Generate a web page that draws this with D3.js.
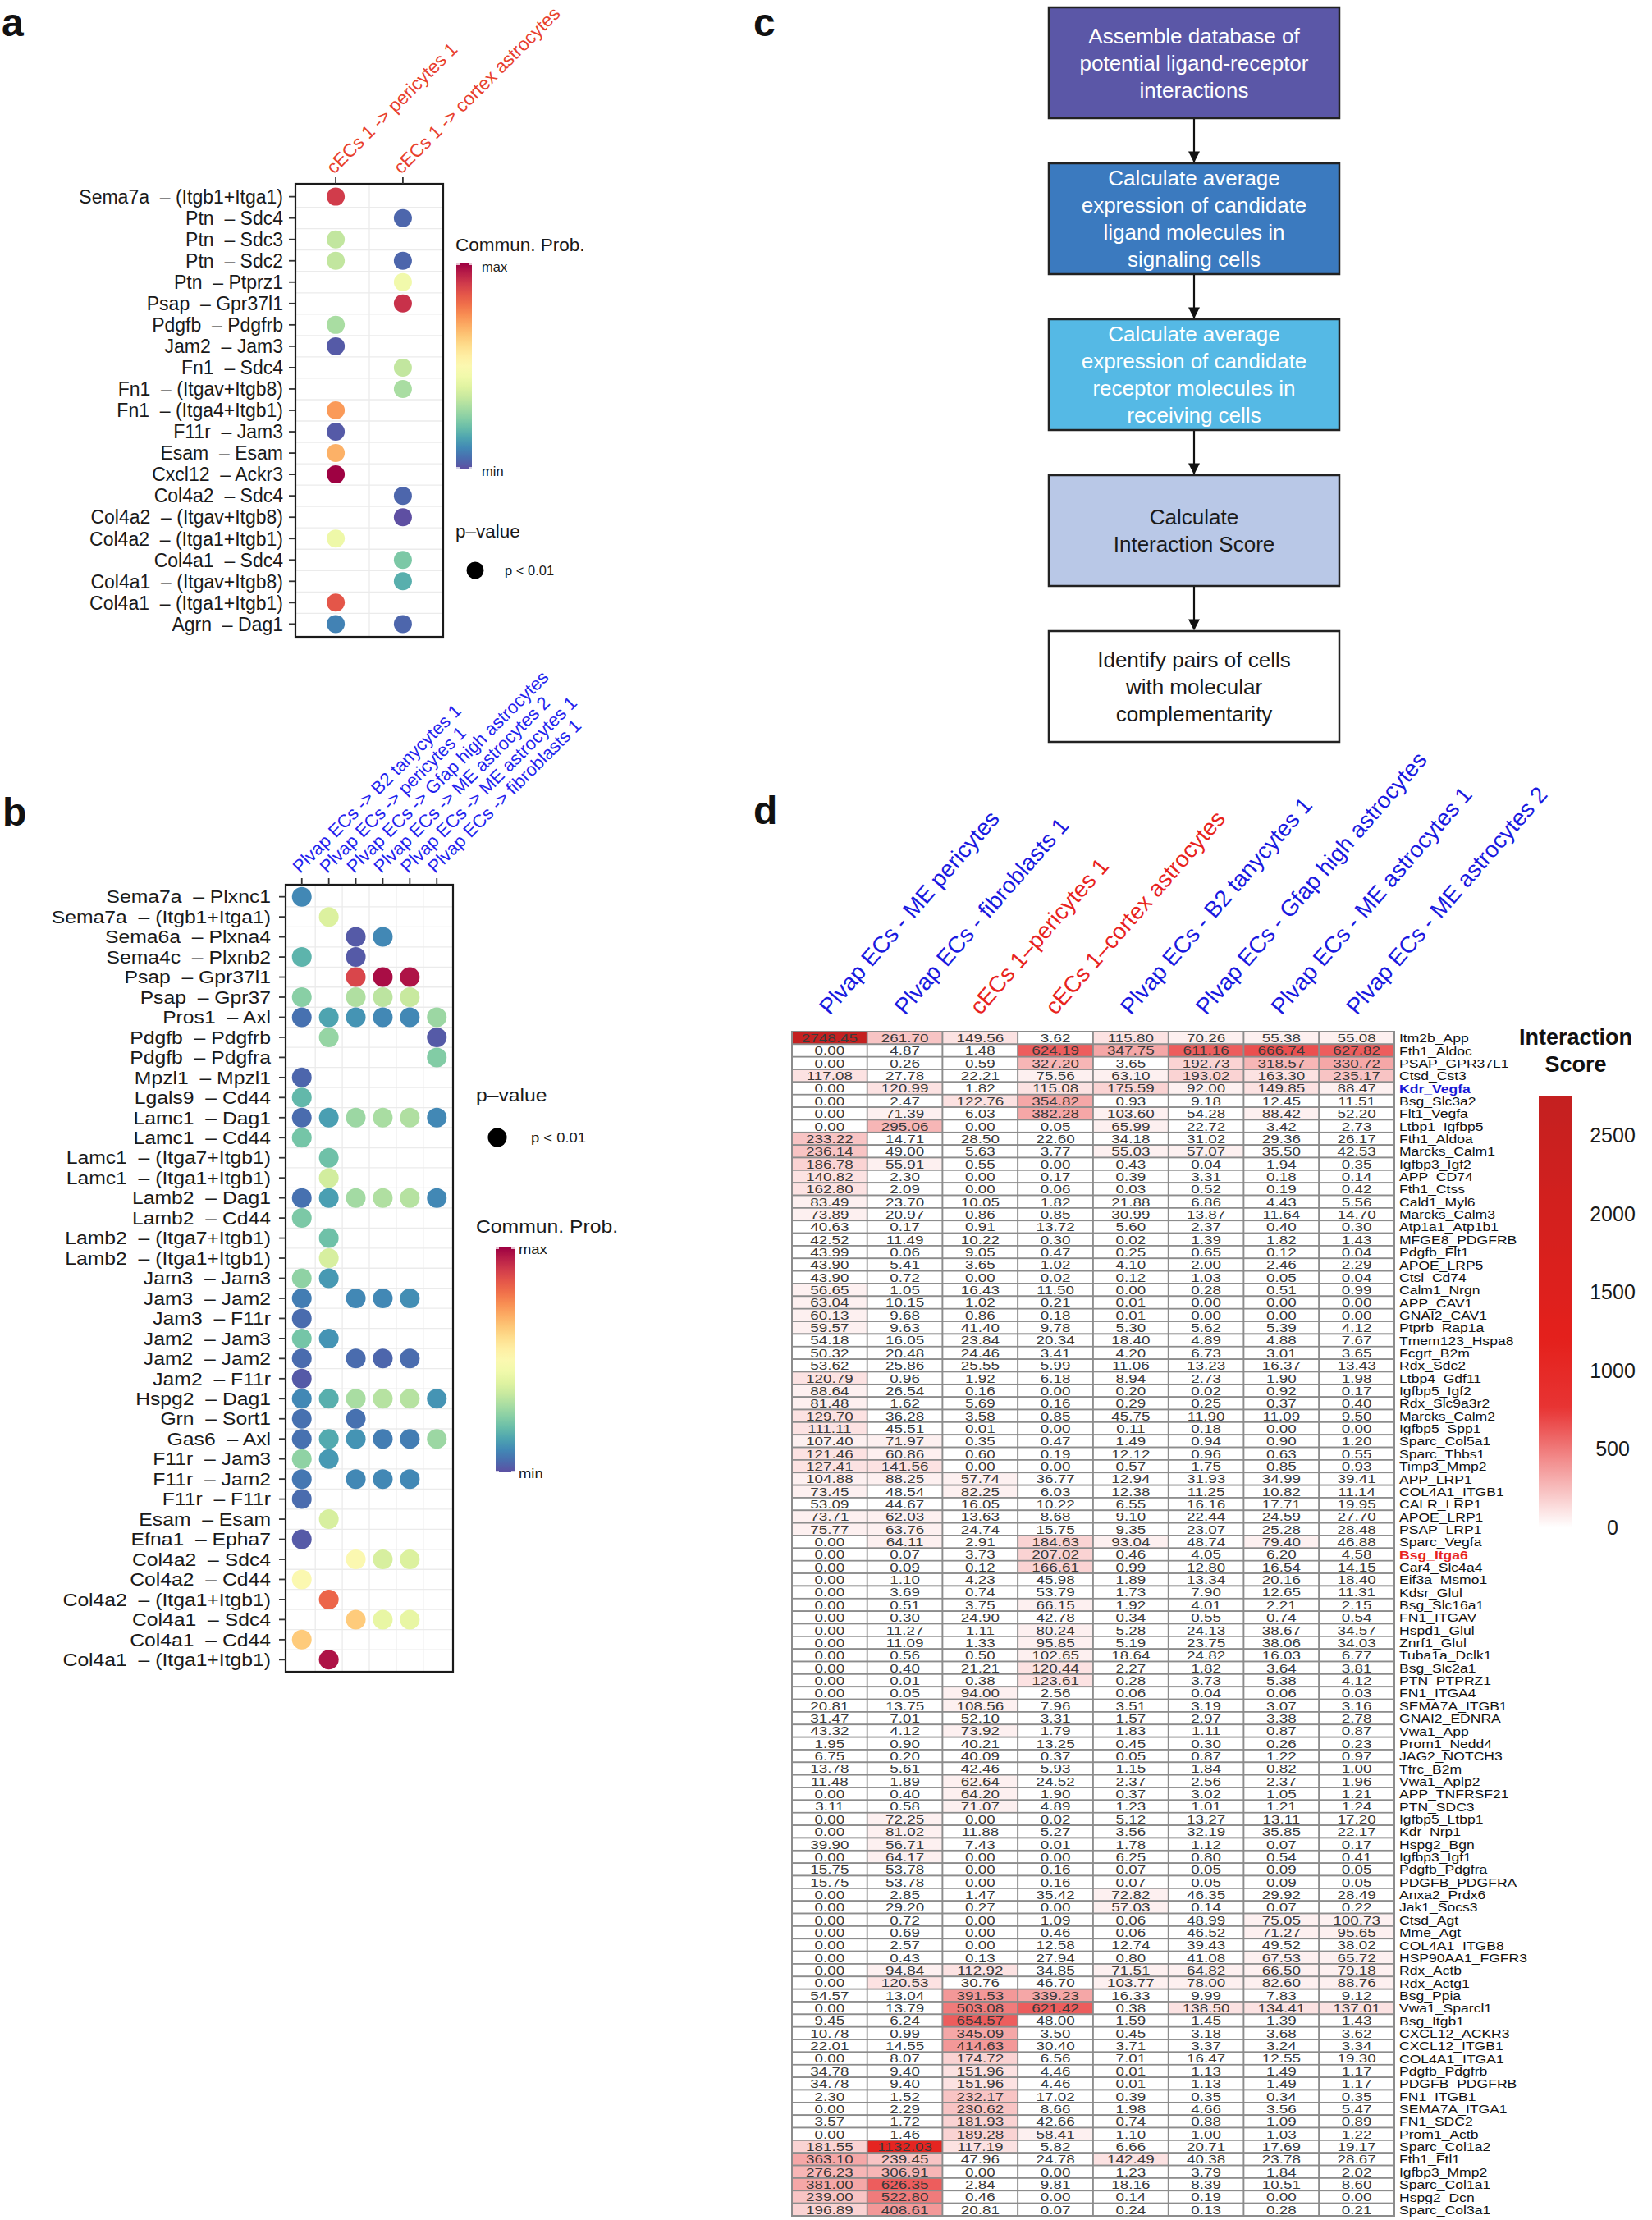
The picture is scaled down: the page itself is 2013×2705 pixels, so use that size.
<!DOCTYPE html>
<html><head><meta charset="utf-8">
<script src="https://cdn.jsdelivr.net/npm/d3@7"></script>
<style>
body{margin:0;background:#fff}
text{font-family:"Liberation Sans",Arial,Helvetica,sans-serif}
</style>
</head><body>
<svg id="fig" width="2013" height="2705"></svg>
<script>
// ================= DATA =================
// Panel a
const aRows = ["Sema7a – (Itgb1+Itga1)","Ptn – Sdc4","Ptn – Sdc3","Ptn – Sdc2","Ptn – Ptprz1","Psap – Gpr37l1","Pdgfb – Pdgfrb","Jam2 – Jam3","Fn1 – Sdc4","Fn1 – (Itgav+Itgb8)","Fn1 – (Itga4+Itgb1)","F11r – Jam3","Esam – Esam","Cxcl12 – Ackr3","Col4a2 – Sdc4","Col4a2 – (Itgav+Itgb8)","Col4a2 – (Itga1+Itgb1)","Col4a1 – Sdc4","Col4a1 – (Itgav+Itgb8)","Col4a1 – (Itga1+Itgb1)","Agrn – Dag1"];
const aCols = ["cECs 1 -> pericytes 1","cECs 1 -> cortex astrocytes"];
// relative communication probability (0 = min, 1 = max); null = not significant
const _ = null;
const aPericytes = [0.90,_,0.34,0.34,_,_,0.30,0.02,_,_,0.73,0.02,0.69,1.00,_,_,0.44,_,_,0.85,0.09];
const aCortex    = [_,0.04,_,0.04,0.45,0.92,_,_,0.34,0.30,_,_,_,_,0.04,0.00,_,0.23,0.17,_,0.04];

// Panel b
const bRows = ["Sema7a – Plxnc1","Sema7a – (Itgb1+Itga1)","Sema6a – Plxna4","Sema4c – Plxnb2","Psap – Gpr37l1","Psap – Gpr37","Pros1 – Axl","Pdgfb – Pdgfrb","Pdgfb – Pdgfra","Mpzl1 – Mpzl1","Lgals9 – Cd44","Lamc1 – Dag1","Lamc1 – Cd44","Lamc1 – (Itga7+Itgb1)","Lamc1 – (Itga1+Itgb1)","Lamb2 – Dag1","Lamb2 – Cd44","Lamb2 – (Itga7+Itgb1)","Lamb2 – (Itga1+Itgb1)","Jam3 – Jam3","Jam3 – Jam2","Jam3 – F11r","Jam2 – Jam3","Jam2 – Jam2","Jam2 – F11r","Hspg2 – Dag1","Grn – Sort1","Gas6 – Axl","F11r – Jam3","F11r – Jam2","F11r – F11r","Esam – Esam","Efna1 – Epha7","Col4a2 – Sdc4","Col4a2 – Cd44","Col4a2 – (Itga1+Itgb1)","Col4a1 – Sdc4","Col4a1 – Cd44","Col4a1 – (Itga1+Itgb1)"];
const bCols = ["Plvap ECs -> B2 tanycytes 1","Plvap ECs -> pericytes 1","Plvap ECs -> Gfap high astrocytes","Plvap ECs -> ME astrocytes 2","Plvap ECs -> ME astrocytes 1","Plvap ECs -> fibroblasts 1"];
const bB2Tany  = [0.10,_,_,0.18,_,0.25,0.06,_,_,0.04,0.19,0.05,0.22,_,_,0.06,0.23,_,_,0.26,0.08,0.05,0.22,0.05,0.02,0.10,0.06,0.06,0.26,0.07,0.05,_,0.02,_,0.50,_,_,0.64,_];
const bPeri    = [_,0.39,_,_,_,_,0.15,0.27,_,_,_,0.14,_,0.21,0.37,0.14,_,0.21,0.38,0.13,_,_,0.12,_,_,0.17,_,0.16,0.13,_,_,0.38,_,_,_,0.82,_,_,0.97];
const bGfap    = [_,_,0.02,0.02,0.88,0.31,0.12,_,_,_,_,0.28,_,_,_,0.29,_,_,_,_,0.10,_,_,0.05,_,0.30,0.06,0.12,_,0.10,_,_,_,0.50,_,_,0.64,_,_];
const bME2     = [_,_,0.10,_,0.98,0.33,0.10,_,_,_,_,0.30,_,_,_,0.31,_,_,_,_,0.10,_,_,0.04,_,0.32,_,0.08,_,0.10,_,_,_,0.38,_,_,0.42,_,_];
const bME1     = [_,_,_,_,0.97,0.35,0.10,_,_,_,_,0.31,_,_,_,0.32,_,_,_,_,0.11,_,_,0.05,_,0.32,_,0.08,_,0.10,_,_,_,0.39,_,_,0.42,_,_];
const bFibro   = [_,_,_,_,_,_,0.28,0.02,0.24,_,_,0.10,_,_,_,0.10,_,_,_,_,_,_,_,_,_,0.12,_,0.28,_,_,_,_,_,_,_,_,_,_,_];

// Panel c
const cSteps = [
  ["Assemble database of","potential ligand-receptor","interactions"],
  ["Calculate average","expression of candidate","ligand molecules in","signaling cells"],
  ["Calculate average","expression of candidate","receptor molecules in","receiving cells"],
  ["Calculate","Interaction Score"],
  ["Identify pairs of cells","with molecular","complementarity"]
];
const cFills = ["#5b57a7","#3b7abf","#55b9e5","#b9c8e7","#ffffff"];
const cTextColors = ["#ffffff","#ffffff","#ffffff","#1a1a1a","#1a1a1a"];

// Panel d
const dCols = ["Plvap ECs - ME pericytes","Plvap ECs - fibroblasts 1","cECs 1\u2013pericytes 1","cECs 1\u2013cortex astrocytes","Plvap ECs - B2 tanycytes 1","Plvap ECs - Gfap high astrocytes","Plvap ECs - ME astrocytes 1","Plvap ECs - ME astrocytes 2"];
const dRows = ["Itm2b_App","Fth1_Aldoc","PSAP_GPR37L1","Ctsd_Cst3","Kdr_Vegfa","Bsg_Slc3a2","Flt1_Vegfa","Ltbp1_Igfbp5","Fth1_Aldoa","Marcks_Calm1",
"Igfbp3_Igf2","APP_CD74","Fth1_Ctss","Cald1_Myl6","Marcks_Calm3","Atp1a1_Atp1b1","MFGE8_PDGFRB","Pdgfb_Flt1","APOE_LRP5","Ctsl_Cd74","Calm1_Nrgn",
"APP_CAV1","GNAI2_CAV1","Ptprb_Rap1a","Tmem123_Hspa8","Fcgrt_B2m","Rdx_Sdc2","Ltbp4_Gdf11","Igfbp5_Igf2","Rdx_Slc9a3r2","Marcks_Calm2",
"Igfbp5_Spp1","Sparc_Col5a1","Sparc_Thbs1","Timp3_Mmp2","APP_LRP1","COL4A1_ITGB1","CALR_LRP1","APOE_LRP1","PSAP_LRP1","Sparc_Vegfa","Bsg_Itga6",
"Car4_Slc4a4","Eif3a_Msmo1","Kdsr_Glul","Bsg_Slc16a1","FN1_ITGAV","Hspd1_Glul","Znrf1_Glul","Tuba1a_Dclk1","Bsg_Slc2a1","PTN_PTPRZ1",
"FN1_ITGA4","SEMA7A_ITGB1","GNAI2_EDNRA","Vwa1_App","Prom1_Nedd4","JAG2_NOTCH3","Tfrc_B2m","Vwa1_Aplp2","APP_TNFRSF21","PTN_SDC3","Igfbp5_Ltbp1",
"Kdr_Nrp1","Hspg2_Bgn","Igfbp3_Igf1","Pdgfb_Pdgfra","PDGFB_PDGFRA","Anxa2_Prdx6","Jak1_Socs3","Ctsd_Agt","Mme_Agt","COL4A1_ITGB8",
"HSP90AA1_FGFR3","Rdx_Actb","Rdx_Actg1","Bsg_Ppia","Vwa1_Sparcl1","Bsg_Itgb1","CXCL12_ACKR3","CXCL12_ITGB1","COL4A1_ITGA1","Pdgfb_Pdgfrb","PDGFB_PDGFRB",
"FN1_ITGB1","SEMA7A_ITGA1","FN1_SDC2","Prom1_Actb","Sparc_Col1a2","Fth1_Ftl1","Igfbp3_Mmp2","Sparc_Col1a1","Hspg2_Dcn","Sparc_Col3a1"];
const dMEPericytes = [2748.45,0.00,0.00,117.08,0.00,0.00,0.00,0.00,233.22,236.14,
186.78,140.82,162.80,83.49,73.89,40.63,42.52,43.99,43.90,43.90,56.65,
63.04,60.13,59.57,54.18,50.32,53.62,120.79,88.64,81.48,129.70,
111.11,107.40,121.46,127.41,104.88,73.45,53.09,73.71,75.77,0.00,0.00,
0.00,0.00,0.00,0.00,0.00,0.00,0.00,0.00,0.00,0.00,
0.00,20.81,31.47,43.32,1.95,6.75,13.78,11.48,0.00,3.11,0.00,
0.00,39.90,0.00,15.75,15.75,0.00,0.00,0.00,0.00,0.00,
0.00,0.00,0.00,54.57,0.00,9.45,10.78,22.01,0.00,34.78,34.78,
2.30,0.00,3.57,0.00,181.55,363.10,276.23,381.00,239.00,196.89];
const dFibroblasts = [261.70,4.87,0.26,27.78,120.99,2.47,71.39,295.06,14.71,49.00,
55.91,2.30,2.09,23.70,20.97,0.17,11.49,0.06,5.41,0.72,1.05,
10.15,9.68,9.63,16.05,20.48,25.86,0.96,26.54,1.62,36.28,
45.51,71.97,60.86,141.56,88.25,48.54,44.67,62.03,63.76,64.11,0.07,
0.09,1.10,3.69,0.51,0.30,11.27,11.09,0.56,0.40,0.01,
0.05,13.75,7.01,4.12,0.90,0.20,5.61,1.89,0.40,0.58,72.25,
81.02,56.71,64.17,53.78,53.78,2.85,29.20,0.72,0.69,2.57,
0.43,94.84,120.53,13.04,13.79,6.24,0.99,14.55,8.07,9.40,9.40,
1.52,2.29,1.72,1.46,1132.03,239.45,306.91,626.35,522.80,408.61];
const dCPericytes = [149.56,1.48,0.59,22.21,1.82,122.76,6.03,0.00,28.50,5.63,
0.55,0.00,0.00,10.05,0.86,0.91,10.22,9.05,3.65,0.00,16.43,
1.02,0.86,41.40,23.84,24.46,25.55,1.92,0.16,5.69,3.58,
0.01,0.35,0.60,0.00,57.74,82.25,16.05,13.63,24.74,2.91,3.73,
0.12,4.23,0.74,3.75,24.90,1.11,1.33,0.50,21.21,0.38,
94.00,108.56,52.10,73.92,40.21,40.09,42.46,62.64,64.20,71.07,0.00,
11.88,7.43,0.00,0.00,0.00,1.47,0.27,0.00,0.00,0.00,
0.13,112.92,30.76,391.53,503.08,654.57,345.09,414.63,174.72,151.96,151.96,
232.17,230.62,181.93,189.28,117.19,47.96,0.00,2.84,0.46,20.81];
const dCCortex = [3.62,624.19,327.20,75.56,115.08,354.82,382.28,0.05,22.60,3.77,
0.00,0.17,0.06,1.82,0.85,13.72,0.30,0.47,1.02,0.02,11.50,
0.21,0.18,9.78,20.34,3.41,5.99,6.18,0.00,0.16,0.85,
0.00,0.47,0.19,0.00,36.77,6.03,10.22,8.68,15.75,184.63,207.02,
166.61,45.98,53.79,66.15,42.78,80.24,95.85,102.65,120.44,123.61,
2.56,7.96,3.31,1.79,13.25,0.37,5.93,24.52,1.90,4.89,0.02,
5.27,0.01,0.00,0.16,0.16,35.42,0.00,1.09,0.46,12.58,
27.94,34.85,46.70,339.23,621.42,48.00,3.50,30.40,6.56,4.46,4.46,
17.02,8.66,42.66,58.41,5.82,24.78,0.00,9.81,0.00,0.07];
const dB2Tanycytes = [115.80,347.75,3.65,63.10,175.59,0.93,103.60,65.99,34.18,55.03,
0.43,0.39,0.03,21.88,30.99,5.60,0.02,0.25,4.10,0.12,0.00,
0.01,0.01,5.30,18.40,4.20,11.06,8.94,0.20,0.29,45.75,
0.11,1.49,12.12,0.57,12.94,12.38,6.55,9.10,9.35,93.04,0.46,
0.99,1.89,1.73,1.92,0.34,5.28,5.19,18.64,2.27,0.28,
0.06,3.51,1.57,1.83,0.45,0.05,1.15,2.37,0.37,1.23,5.12,
3.56,1.78,6.25,0.07,0.07,72.82,57.03,0.06,0.06,12.74,
0.80,71.51,103.77,16.33,0.38,1.59,0.45,3.71,7.01,0.01,0.01,
0.39,1.98,0.74,1.10,6.66,142.49,1.23,18.16,0.14,0.24];
const dGfapAstro = [70.26,611.16,192.73,193.02,92.00,9.18,54.28,22.72,31.02,57.07,
0.04,3.31,0.52,6.86,13.87,2.37,1.39,0.65,2.00,1.03,0.28,
0.00,0.00,5.62,4.89,6.73,13.23,2.73,0.02,0.25,11.90,
0.18,0.94,0.96,1.75,31.93,11.25,16.16,22.44,23.07,48.74,4.05,
12.80,13.34,7.90,4.01,0.55,24.13,23.75,24.82,1.82,3.73,
0.04,3.19,2.97,1.11,0.30,0.87,1.84,2.56,3.02,1.01,13.27,
32.19,1.12,0.80,0.05,0.05,46.35,0.14,48.99,46.52,39.43,
41.08,64.82,78.00,9.99,138.50,1.45,3.18,3.37,16.47,1.13,1.13,
0.35,4.66,0.88,1.00,20.71,40.38,3.79,8.39,0.19,0.13];
const dMEAstro1 = [55.38,666.74,318.57,163.30,149.85,12.45,88.42,3.42,29.36,35.50,
1.94,0.18,0.19,4.43,11.64,0.40,1.82,0.12,2.46,0.05,0.51,
0.00,0.00,5.39,4.88,3.01,16.37,1.90,0.92,0.37,11.09,
0.00,0.90,0.63,0.85,34.99,10.82,17.71,24.59,25.28,79.40,6.20,
16.54,20.16,12.65,2.21,0.74,38.67,38.06,16.03,3.64,5.38,
0.06,3.07,3.38,0.87,0.26,1.22,0.82,2.37,1.05,1.21,13.11,
35.85,0.07,0.54,0.09,0.09,29.92,0.07,75.05,71.27,49.52,
67.53,66.50,82.60,7.83,134.41,1.39,3.68,3.24,12.55,1.49,1.49,
0.34,3.56,1.09,1.03,17.69,23.78,1.84,10.51,0.00,0.28];
const dMEAstro2 = [55.08,627.82,330.72,235.17,88.47,11.51,52.20,2.73,26.17,42.53,
0.35,0.14,0.42,5.56,14.70,0.30,1.43,0.04,2.29,0.04,0.99,
0.00,0.00,4.12,7.67,3.65,13.43,1.98,0.17,0.40,9.50,
0.00,1.20,0.55,0.93,39.41,11.14,19.95,27.70,28.48,46.88,4.58,
14.15,18.40,11.31,2.15,0.54,34.57,34.03,6.77,3.81,4.12,
0.03,3.16,2.78,0.87,0.23,0.97,1.00,1.96,1.21,1.24,17.20,
22.17,0.17,0.41,0.05,0.05,28.49,0.22,100.73,95.65,38.02,
65.72,79.18,88.76,9.12,137.01,1.43,3.62,3.34,19.30,1.17,1.17,
0.35,5.47,0.89,1.22,19.17,28.67,2.02,8.60,0.00,0.21];
const dLegendTicks = [0,500,1000,1500,2000,2500];
const dHighlight = {"Kdr_Vegfa":"#1717d6","Bsg_Itga6":"#e8231e"};

// ================= DRAWING =================
const svg = d3.select("#fig");
svg.append("rect").attr("width",2013).attr("height",2705).attr("fill","#fff");
const defs = svg.append("defs");
const spectral = t => d3.interpolateSpectral(1 - t);

function spectralGradient(id){
  const g = defs.append("linearGradient").attr("id",id)
    .attr("x1",0).attr("y1",1).attr("x2",0).attr("y2",0);
  d3.range(0,1.0001,0.05).forEach(t=>g.append("stop").attr("offset",t).attr("stop-color",spectral(t)));
}
spectralGradient("specA");
spectralGradient("specB");

// panel letters
[["a",2,44],["b",3,1006],["c",918,44],["d",918,1004]].forEach(([t,x,y])=>{
  svg.append("text").attr("x",x).attr("y",y).attr("font-size",48).attr("font-weight","bold").attr("fill","#111").text(t);
});

function dotPlot(o){
  const g = svg.append("g");
  const x = d3.scaleLinear().domain([0.4,o.cols.length+0.6]).range([o.x0,o.x1]);
  const y = d3.scaleLinear().domain([0.4,o.rows.length+0.6]).range([o.y0,o.y1]);
  d3.range(1,o.cols.length).forEach(k=>g.append("line")
    .attr("x1",x(k+0.5)).attr("x2",x(k+0.5)).attr("y1",o.y0).attr("y2",o.y1)
    .attr("stroke","#ebebeb").attr("stroke-width",1.3));
  d3.range(1,o.rows.length).forEach(k=>g.append("line")
    .attr("y1",y(k+0.5)).attr("y2",y(k+0.5)).attr("x1",o.x0).attr("x2",o.x1)
    .attr("stroke","#ebebeb").attr("stroke-width",1.3));
  o.values.forEach((arr,j)=>arr.forEach((v,i)=>{
    if(v===null||v===undefined) return;
    g.append("circle").attr("cx",x(j+1)).attr("cy",y(i+1)).attr("r",o.r).attr("fill",spectral(v));
  }));
  g.append("rect").attr("x",o.x0).attr("y",o.y0).attr("width",o.x1-o.x0).attr("height",o.y1-o.y0)
    .attr("fill","none").attr("stroke","#1a1a1a").attr("stroke-width",2.2);
  o.rows.forEach((r,i)=>{
    g.append("line").attr("x1",o.x0-8).attr("x2",o.x0).attr("y1",y(i+1)).attr("y2",y(i+1)).attr("stroke","#333").attr("stroke-width",1.8);
    g.append("text").attr("transform",`translate(${o.x0-o.labelGap},${y(i+1)}) scale(${o.sx},1)`)
      .attr("text-anchor","end").attr("dy","0.36em").attr("font-size",o.fs).attr("fill","#1a1a1a")
      .style("white-space","pre").text(r.replace(" – ","  – "));
  });
  o.cols.forEach((c,j)=>{
    g.append("line").attr("x1",x(j+1)).attr("x2",x(j+1)).attr("y1",o.y0-8).attr("y2",o.y0).attr("stroke","#333").attr("stroke-width",1.8);
    g.append("text").attr("transform",`translate(${x(j+1)-2},${o.y0-o.cdy}) rotate(-45)`)
      .attr("font-size",o.cfs).attr("fill",o.colColor).text(c);
  });
}

dotPlot({rows:aRows, cols:aCols, values:[aPericytes,aCortex], x0:360, x1:540, y0:224, y1:776,
  r:11, fs:23, sx:1, labelGap:15, cfs:22.5, cdy:11, colColor:"#e8402e"});
dotPlot({rows:bRows, cols:bCols, values:[bB2Tany,bPeri,bGfap,bME2,bME1,bFibro], x0:348, x1:552, y0:1078, y1:2037,
  r:12, fs:21.5, sx:1.15, labelGap:18, cfs:22, cdy:13, colColor:"#2424ee"});

function legendText(x,y,t,fs,sx){
  svg.append("text").attr("transform",`translate(${x},${y}) scale(${sx},1)`).attr("font-size",fs).attr("fill","#1a1a1a").text(t);
}
function colorbar(x,y,w,h,grad){
  svg.append("rect").attr("x",x).attr("y",y).attr("width",w).attr("height",h).attr("fill",`url(#${grad})`);
  [y+1,y+h-1].forEach(yy=>{
    svg.append("line").attr("x1",x).attr("x2",x+4).attr("y1",yy).attr("y2",yy).attr("stroke","#fff").attr("stroke-width",1.5);
    svg.append("line").attr("x1",x+w-4).attr("x2",x+w).attr("y1",yy).attr("y2",yy).attr("stroke","#fff").attr("stroke-width",1.5);
  });
}
// legend a
legendText(555,306,"Commun. Prob.",22.5,1);
colorbar(556,321,19,250,"specA");
legendText(587,331,"max",16.5,1);
legendText(587,580,"min",16.5,1);
legendText(555,655,"p\u2013value",22.5,1);
svg.append("circle").attr("cx",579).attr("cy",695).attr("r",10.5).attr("fill","#000");
legendText(615,701,"p < 0.01",16.5,1);
// legend b
legendText(580,1342,"p\u2013value",21.5,1.15);
svg.append("circle").attr("cx",606).attr("cy",1386).attr("r",11.5).attr("fill","#000");
legendText(647,1392,"p < 0.01",16,1.15);
legendText(580,1502,"Commun. Prob.",21.5,1.15);
colorbar(604,1520,23,274,"specB");
legendText(632,1528,"max",16,1.15);
legendText(632,1801,"min",16,1.15);

// ---------- Panel c ----------
const cG = svg.append("g");
defs.append("marker").attr("id","arr").attr("viewBox","0 0 10 10").attr("refX",9).attr("refY",5)
  .attr("markerWidth",14).attr("markerHeight",14).attr("markerUnits","userSpaceOnUse").attr("orient","auto")
  .append("path").attr("d","M0,0 L10,5 L0,10 z").attr("fill","#111");
const cY = d3.scaleLinear().domain([0,5]).range([9,959]);
const boxH = 135, cx0 = 1278, cx1 = 1632, cxm = (cx0+cx1)/2;
cSteps.forEach((lines,i)=>{
  const top = cY(i);
  cG.append("rect").attr("x",cx0).attr("y",top).attr("width",cx1-cx0).attr("height",boxH)
    .attr("fill",cFills[i]).attr("stroke","#222").attr("stroke-width",2.5);
  const lh = 33, start = top + boxH/2 - (lines.length-1)*lh/2;
  lines.forEach((l,k)=>cG.append("text").attr("x",cxm).attr("y",start+k*lh).attr("dy","0.36em")
    .attr("text-anchor","middle").attr("font-size",26).attr("fill",cTextColors[i]).text(l));
  if(i<cSteps.length-1){
    cG.append("line").attr("x1",cxm).attr("x2",cxm).attr("y1",top+boxH+1).attr("y2",cY(i+1)-2)
      .attr("stroke","#111").attr("stroke-width",2.2).attr("marker-end","url(#arr)");
  }
});

// ---------- Panel d ----------
const dG = svg.append("g");
const dX = d3.scaleBand().domain(dCols).range([965,1699]);
const dY = d3.scaleBand().domain(dRows).range([1257,2700]);
const dSeries = [dMEPericytes,dFibroblasts,dCPericytes,dCCortex,dB2Tanycytes,dGfapAstro,dMEAstro1,dMEAstro2];
const dMax = d3.max(dSeries.flat());
const binW = dMax/50;
const heat = d3.scaleLinear().domain([0,760,1200,2750]).range(["#ffffff","#e83434","#e4201c","#c42020"]).clamp(true);
const heatBin = v => heat(Math.floor(v/binW+1e-9)*binW);

dSeries.forEach((arr,j)=>arr.forEach((v,i)=>{
  dG.append("rect").attr("x",dX(dCols[j])).attr("y",dY(dRows[i])).attr("width",dX.bandwidth()).attr("height",dY.bandwidth())
    .attr("fill",heatBin(v)).attr("stroke","#8c8c8c").attr("stroke-width",1.7);
}));
dSeries.forEach((arr,j)=>arr.forEach((v,i)=>{
  dG.append("text").attr("transform",`translate(${dX(dCols[j])+dX.bandwidth()/2},${dY(dRows[i])+dY.bandwidth()/2}) scale(1.3,1)`)
    .attr("text-anchor","middle").attr("dy","0.37em").attr("font-size",14.5).attr("fill","#3a3a3a").text(v.toFixed(2));
}));
dG.append("rect").attr("x",965).attr("y",1257).attr("width",734).attr("height",1443).attr("fill","none").attr("stroke","#8c8c8c").attr("stroke-width",2);
dRows.forEach(r=>{
  dG.append("text").attr("transform",`translate(1705,${dY(r)+dY.bandwidth()/2}) scale(1.17,1)`)
    .attr("dy","0.37em").attr("font-size",15).attr("fill",dHighlight[r]||"#111")
    .attr("font-weight",dHighlight[r]?"bold":"normal").text(r);
});
dCols.forEach(c=>{
  dG.append("text").attr("transform",`translate(${dX(c)+dX.bandwidth()/2},1238) rotate(-49)`)
    .attr("font-size",28).attr("fill",c.startsWith("cECs")?"#e8231e":"#1a1ae0").text(c);
});
// legend d
const lgY = d3.scaleLinear().domain([0,2500]).range([1861,1383]);
const lgGrad = defs.append("linearGradient").attr("id","heatGrad").attr("x1",0).attr("y1",1).attr("x2",0).attr("y2",0);
d3.range(0,51).forEach(k=>{
  const v = k*dMax/50;
  lgGrad.append("stop").attr("offset",k/50).attr("stop-color",heat(v));
});
dG.append("rect").attr("x",1875).attr("y",lgY(dMax)).attr("width",40).attr("height",lgY(0)-lgY(dMax)).attr("fill","url(#heatGrad)");
dLegendTicks.forEach(t=>{
  dG.append("text").attr("x",1965).attr("y",lgY(t)).attr("dy","0.36em").attr("text-anchor","middle")
    .attr("font-size",25).attr("fill","#1a1a1a").text(t);
});
dG.append("text").attr("x",1920).attr("y",1273).attr("text-anchor","middle").attr("font-size",27).attr("font-weight","bold").attr("fill","#111").text("Interaction");
dG.append("text").attr("x",1920).attr("y",1306).attr("text-anchor","middle").attr("font-size",27).attr("font-weight","bold").attr("fill","#111").text("Score");
</script>
</body></html>
